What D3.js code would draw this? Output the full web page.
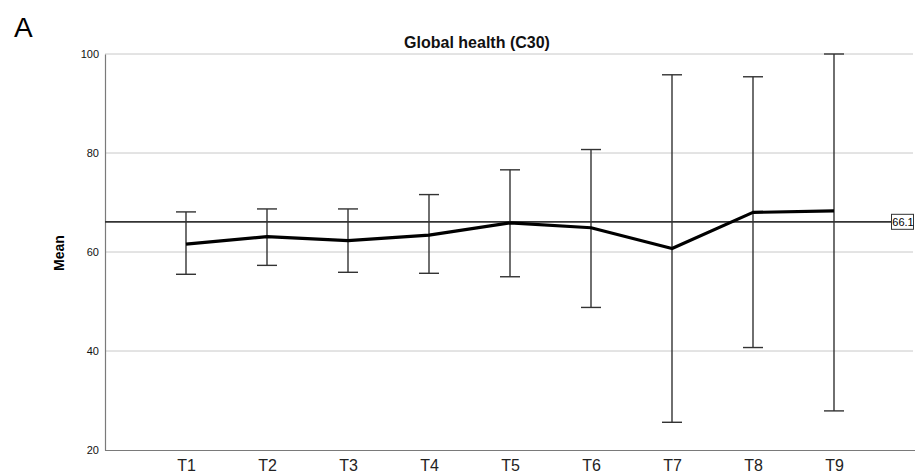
<!DOCTYPE html>
<html>
<head>
<meta charset="utf-8">
<script src="https://cdn.jsdelivr.net/npm/d3@7"></script>
<style>
  body { margin: 0; background: #fff; }
  svg { display: block; font-family: "Liberation Sans", Arial, sans-serif; }
</style>
</head>
<body>
<svg width="916" height="476"></svg>
<script>
// data
const timepoints = ["T1", "T2", "T3", "T4", "T5", "T6", "T7", "T8", "T9"]
const means = [61.6, 63.1, 62.3, 63.4, 65.9, 64.9, 60.7, 68.0, 68.3]
const upper = [68.1, 68.7, 68.7, 71.6, 76.6, 80.7, 95.8, 95.4, 100]
const lower = [55.5, 57.3, 55.9, 55.7, 55.0, 48.8, 25.6, 40.7, 27.9]
const yTicks = [20, 40, 60, 80, 100]
const refValue = 66.1

const svg = d3.select("svg")

const plotLeft = 105, plotRight = 915, plotTop = 54, plotBottom = 450

const x = d3.scalePoint()
    .domain(timepoints)
    .range([plotLeft, plotRight])
    .padding(1)

const y = d3.scaleLinear()
    .domain([20, 100])
    .range([plotBottom, plotTop])

// panel letter + title
svg.append("text")
    .attr("x", 14).attr("y", 37)
    .attr("font-size", 28)
    .text("A")

svg.append("text")
    .attr("x", 477).attr("y", 48)
    .attr("text-anchor", "middle")
    .attr("font-size", 16)
    .attr("font-weight", "bold")
    .attr("fill", "#111")
    .text("Global health (C30)")

// gridlines
svg.append("g")
    .selectAll("line")
    .data(yTicks.filter(d => d > 20))
    .enter()
    .append("line")
        .attr("x1", plotLeft).attr("x2", plotRight - 2)
        .attr("y1", d => y(d)).attr("y2", d => y(d))
        .attr("stroke", "#c8c8c8")
        .attr("stroke-width", 1)

// y axis
const yAxis = svg.append("g")
    .attr("transform", `translate(${plotLeft},0)`)
    .call(d3.axisLeft(y).tickValues(yTicks).tickSize(0).tickPadding(6))
yAxis.select(".domain").attr("stroke", "#7a7a7a").attr("stroke-width", 1.2)
yAxis.selectAll("text").attr("font-size", 11).attr("fill", "#111")

// x axis
const xAxis = svg.append("g")
    .attr("transform", `translate(0,${plotBottom})`)
    .call(d3.axisBottom(x).tickSize(0).tickPadding(10))
xAxis.select(".domain").attr("d", `M${plotLeft},0.5H${plotRight}`).attr("stroke", "#7a7a7a").attr("stroke-width", 1.2)
xAxis.selectAll("text").attr("font-size", 16).attr("fill", "#222")

svg.append("text")
    .attr("transform", `translate(64,253) rotate(-90)`)
    .attr("text-anchor", "middle")
    .attr("font-size", 14)
    .attr("font-weight", "bold")
    .text("Mean")

// reference line
svg.append("line")
    .attr("x1", plotLeft).attr("x2", 891)
    .attr("y1", y(refValue)).attr("y2", y(refValue))
    .attr("stroke", "#333")
    .attr("stroke-width", 1.8)

svg.append("rect")
    .attr("x", 891.5).attr("y", y(refValue) - 7.5)
    .attr("width", 22).attr("height", 15)
    .attr("fill", "#fff")
    .attr("stroke", "#333")
    .attr("stroke-width", 1)

svg.append("text")
    .attr("x", 903).attr("y", y(refValue) + 4)
    .attr("text-anchor", "middle")
    .attr("font-size", 11)
    .text(refValue.toFixed(1))

// error bars
const bars = svg.append("g")
    .attr("stroke", "#333")
    .attr("stroke-width", 1.4)
    .selectAll("g")
    .data(timepoints)
    .enter()
    .append("g")

bars.append("line")
    .attr("x1", d => x(d)).attr("x2", d => x(d))
    .attr("y1", (d, i) => y(upper[i])).attr("y2", (d, i) => y(lower[i]))
bars.append("line")
    .attr("x1", d => x(d) - 10).attr("x2", d => x(d) + 10)
    .attr("y1", (d, i) => y(upper[i])).attr("y2", (d, i) => y(upper[i]))
bars.append("line")
    .attr("x1", d => x(d) - 10).attr("x2", d => x(d) + 10)
    .attr("y1", (d, i) => y(lower[i])).attr("y2", (d, i) => y(lower[i]))

// mean line
const line = d3.line()
    .x((d, i) => x(timepoints[i]))
    .y(d => y(d))

svg.append("path")
    .datum(means)
    .attr("d", line)
    .attr("fill", "none")
    .attr("stroke", "#000")
    .attr("stroke-width", 3.2)
    .attr("stroke-linejoin", "round")
</script>
</body>
</html>
